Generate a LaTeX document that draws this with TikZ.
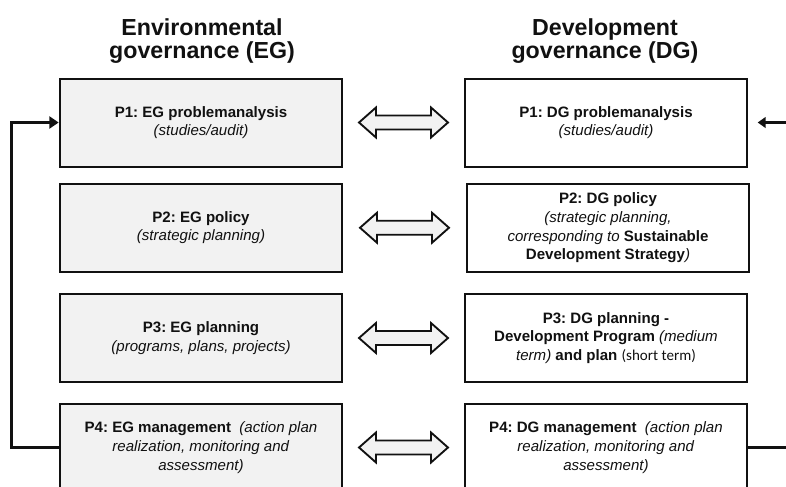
\documentclass[tikz,border=0pt]{standalone}
\usepackage{fontspec}
\setmainfont{Liberation Sans}
\newfontfamily\calibri{Carlito}
\usepackage{tikz}
\usetikzlibrary{arrows.meta, positioning, calc}
\frenchspacing
\definecolor{tinta}{HTML}{111111}
\definecolor{relleno}{HTML}{F2F2F2}
\tikzset{
  titulo/.style={font=\fontsize{17.4}{17.6}\selectfont\bfseries, align=center, text=tinta},
  egbox/.style={rectangle, draw=tinta, line width=1.5pt, fill=relleno, minimum width=212pt,
                minimum height=66pt, align=center, text=tinta,
                font=\fontsize{11.3}{14}\selectfont},
  dgbox/.style={egbox, fill=white},
  fatarrow/.style={draw=tinta, line width=1.4pt, fill=relleno},
  retro/.style={draw=tinta, line width=2.2pt},
  punta/.style={-{Triangle[length=7pt,width=9pt]}}
}
% fat double arrow centred between two boxes
\newcommand{\dobleflecha}[2]{%
  \path ($(#1.east)!0.5!(#2.west)$) coordinate (m);
  \draw[fatarrow] ($(m)+(-44.5,0)$) -- ++(17,-15) -- ++(0,8) -- ++(55,0) -- ++(0,-8)
    -- ++(17,15) -- ++(-17,15) -- ++(0,-8) -- ++(-55,0) -- ++(0,8) -- cycle;}

\begin{document}
\begin{tikzpicture}[x=0.75pt, y=-0.75pt]
  \useasboundingbox (0,0) rectangle (786,486);
  \clip (0,0) rectangle (786,486);
  \node (tEG) [titulo] at (202,41) {Environmental\\governance (EG)};
  \node (tDG) [titulo] at (605,41) {Development\\governance (DG)};
  \node (eg1) [egbox] at (201,122.5) {\textbf{P1: EG problemanalysis}\\\textit{(studies/audit)}};
  \node (eg2) [egbox] at (201,227.5) {\textbf{P2: EG policy}\\\textit{(strategic planning)}};
  \node (eg3) [egbox] at (201,338) {\textbf{P3: EG planning}\\\textit{(programs, plans, projects)}};
  \node (eg4) [egbox] at (201,447.5) {\textbf{P4: EG management}\hspace{0.55em}\textit{(action plan}\\
    \textit{realization, monitoring and}\\\textit{assessment)}};
  \node (dg1) [dgbox] at (606,122.5) {\textbf{P1: DG problemanalysis}\\\textit{(studies/audit)}};
  \node (dg2) [dgbox] at (608,228) {\textbf{P2: DG policy}\\\textit{(strategic planning,}\\
    \textit{corresponding to} \textbf{Sustainable}\\\textbf{Development Strategy}\textit{)}};
  \node (dg3) [dgbox] at (606,338) {\textbf{P3: DG planning -}\\\textbf{Development Program} \textit{(medium}\\
    \textit{term)} \textbf{and plan} {\calibri (short term)}};
  \node (dg4) [dgbox] at (606,447.5) {\textbf{P4: DG management}\hspace{0.55em}\textit{(action plan}\\
    \textit{realization, monitoring and}\\\textit{assessment)}};
  \dobleflecha{eg1}{dg1}
  \dobleflecha{eg2}{dg2}
  \dobleflecha{eg3}{dg3}
  \dobleflecha{eg4}{dg4}
  % feedback from management back to problem analysis
  \draw [retro, punta] (eg4.west) -- ++(-47,0) |- (eg1.west);
  \coordinate (bordeA) at (792,122.5);
  \coordinate (bordeB) at (792,447.5);
  \draw [retro, -{Triangle[length=6pt,width=8pt]}] (bordeA) -- ([xshift=7pt]dg1.east);
  \draw [retro] (dg4.east) -- (bordeB);
\end{tikzpicture}
\end{document}
